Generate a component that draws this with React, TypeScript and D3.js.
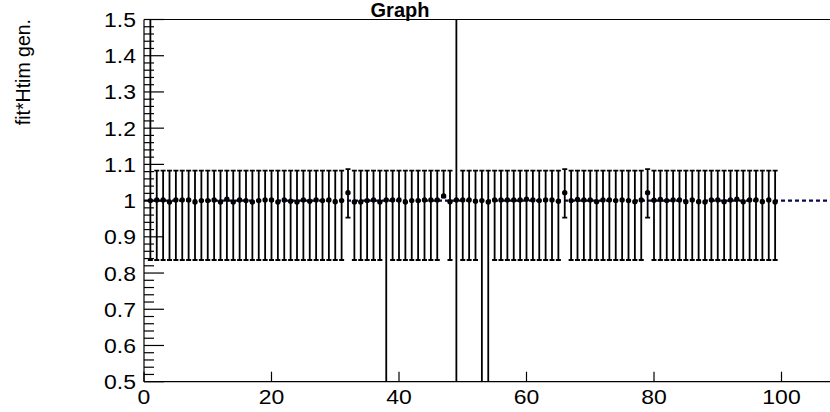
import React from "react";
import * as d3 from "d3";

const xValues = [
  1, 2, 3, 4, 5, 6, 7, 8, 9, 10, 11, 12, 13, 14, 15, 16, 17, 18, 19, 20,
  21, 22, 23, 24, 25, 26, 27, 28, 29, 30, 31, 32, 33, 34, 35, 36, 37, 38, 39, 40,
  41, 42, 43, 44, 45, 46, 47, 48, 49, 50, 51, 52, 53, 54, 55, 56, 57, 58, 59, 60,
  61, 62, 63, 64, 65, 66, 67, 68, 69, 70, 71, 72, 73, 74, 75, 76, 77, 78, 79, 80,
  81, 82, 83, 84, 85, 86, 87, 88, 89, 90, 91, 92, 93, 94, 95, 96, 97, 98, 99,
];

const yValues = [
  1.0, 1.002, 1.002, 0.996, 1.002, 1.002, 1.002, 0.996, 1.0, 1.0,
  1.002, 0.996, 1.004, 0.996, 1.002, 1.0, 0.996, 1.0, 1.002, 1.002,
  0.996, 1.002, 0.998, 0.996, 1.002, 0.998, 1.002, 1.0, 1.002, 0.997,
  1.0, 1.022, 0.996, 0.996, 1.0, 1.002, 0.996, 1.002, 1.002, 1.002,
  0.996, 1.0, 1.0, 1.002, 1.002, 1.002, 1.013, 0.997, 1.002, 1.002,
  1.002, 0.998, 1.0, 0.996, 1.002, 1.002, 1.002, 1.002, 1.002, 1.004,
  1.002, 1.0, 1.002, 1.002, 0.998, 1.022, 1.0, 1.003, 1.002, 1.002,
  0.997, 1.002, 1.002, 1.0, 1.002, 1.0, 0.997, 1.002, 1.022, 1.001,
  1.003, 1.0, 1.002, 1.002, 0.997, 1.002, 0.997, 0.996, 1.002, 1.002,
  0.997, 1.002, 1.004, 0.997, 1.002, 1.002, 0.997, 1.002, 0.996,
];

const errHigh = [
  0.8, 0.081, 0.081, 0.087, 0.081, 0.081, 0.081, 0.087, 0.083, 0.083,
  0.081, 0.087, 0.079, 0.087, 0.081, 0.083, 0.087, 0.083, 0.081, 0.081,
  0.087, 0.081, 0.085, 0.087, 0.081, 0.085, 0.081, 0.083, 0.081, 0.086,
  0.083, 0.065, 0.087, 0.087, 0.083, 0.081, 0.087, 0.081, 0.081, 0.081,
  0.087, 0.083, 0.083, 0.081, 0.081, 0.081, 0.07, 0.086, 0.7, 0.081,
  0.081, 0.085, 0.083, 0.087, 0.081, 0.081, 0.081, 0.081, 0.081, 0.079,
  0.081, 0.083, 0.081, 0.081, 0.085, 0.065, 0.083, 0.08, 0.081, 0.081,
  0.086, 0.081, 0.081, 0.083, 0.081, 0.083, 0.086, 0.081, 0.065, 0.082,
  0.08, 0.083, 0.081, 0.081, 0.086, 0.081, 0.086, 0.087, 0.081, 0.081,
  0.086, 0.081, 0.079, 0.086, 0.081, 0.081, 0.086, 0.081, 0.087,
];

const errLow = [
  0.164, 0.166, 0.166, 0.16, 0.166, 0.166, 0.166, 0.16, 0.164, 0.164,
  0.166, 0.16, 0.168, 0.16, 0.166, 0.164, 0.16, 0.164, 0.166, 0.166,
  0.16, 0.166, 0.162, 0.16, 0.166, 0.162, 0.166, 0.164, 0.166, 0.161,
  0.164, 0.069, 0.16, 0.16, 0.164, 0.166, 0.16, 0.7, 0.166, 0.166,
  0.16, 0.164, 0.164, 0.166, 0.166, 0.166, 0.004, 0.161, 0.7, 0.166,
  0.166, 0.162, 0.7, 0.7, 0.166, 0.166, 0.166, 0.166, 0.166, 0.168,
  0.166, 0.164, 0.166, 0.166, 0.162, 0.069, 0.164, 0.167, 0.166, 0.166,
  0.161, 0.166, 0.166, 0.164, 0.166, 0.164, 0.161, 0.166, 0.069, 0.165,
  0.167, 0.164, 0.166, 0.166, 0.161, 0.166, 0.161, 0.16, 0.166, 0.166,
  0.161, 0.166, 0.168, 0.161, 0.166, 0.166, 0.161, 0.166, 0.16,
];

const fitX = [0, 110];
const fitY = [1.0, 1.0];

const xTickValues = [0, 20, 40, 60, 80, 100];
const xTickLabels = ["0", "20", "40", "60", "80", "100"];
const yTickValues = [0.5, 0.6, 0.7, 0.8, 0.9, 1.0, 1.1, 1.2, 1.3, 1.4, 1.5];
const yTickLabels = ["0.5", "0.6", "0.7", "0.8", "0.9", "1", "1.1", "1.2", "1.3", "1.4", "1.5"];

const titleText = "Graph";
const yTitleText = "fit*Htim gen.";

const W = 830;
const H = 412;
const L = 144;
const T = 19.5;
const B = 381.7;
const FONT = "'Liberation Sans', Arial, Helvetica, sans-serif";
const LABEL_SIZE = 20.5;
const LABEL_STRETCH = 1.12;

export default function App() {
  const x = d3.scaleLinear().domain([0, 110]).range([L, L + 110 * 6.375]);
  const y = d3.scaleLinear().domain([0.5, 1.5]).range([B, T]);

  const yMinor: number[] = [];
  for (let i = 0; i < yTickValues.length - 1; i++) {
    for (let k = 1; k < 5; k++) {
      yMinor.push(yTickValues[i] + (k * (yTickValues[i + 1] - yTickValues[i])) / 5);
    }
  }

  const fitLine = d3
    .line<number>()
    .x((_, i) => x(fitX[i]))
    .y((_, i) => y(fitY[i]))(fitX);

  const cap = 2.5;

  return (
    <svg
      width={W}
      height={H}
      style={{ position: "absolute", left: 0, top: 0, background: "#fff" }}
    >
      <defs>
        <clipPath id="plotclip">
          <rect x={L} y={T} width={W - L + 20} height={B - T} />
        </clipPath>
      </defs>
      <rect x={0} y={0} width={W} height={H} fill="#fff" />

      {/* frame */}
      <line x1={L} x2={W + 10} y1={T} y2={T} stroke="#000" strokeWidth={1.2} />

      {/* fit function */}
      <g clipPath="url(#plotclip)">
        <path d={fitLine || ""} fill="none" stroke="#0a0a50" strokeWidth={2.4} strokeDasharray="4,3" />
      </g>

      {/* error bars and points */}
      <g clipPath="url(#plotclip)">
        {xValues.map((xv, i) => {
          const cx = x(xv);
          const yHi = y(yValues[i] + errHigh[i]);
          const yLo = y(yValues[i] - errLow[i]);
          const inHi = yValues[i] + errHigh[i] <= 1.5;
          const inLo = yValues[i] - errLow[i] >= 0.5;
          return (
            <g key={i} stroke="#000" strokeWidth={1.8}>
              <line x1={cx} x2={cx} y1={yHi} y2={yLo} />
              {inHi && <line x1={cx - cap} x2={cx + cap} y1={yHi} y2={yHi} />}
              {inLo && <line x1={cx - cap} x2={cx + cap} y1={yLo} y2={yLo} />}
            </g>
          );
        })}
        {xValues.map((xv, i) => (
          <circle key={"p" + i} cx={x(xv)} cy={y(yValues[i])} r={2.7} fill="#000" />
        ))}
      </g>

      {/* y axis */}
      <line x1={L} x2={L} y1={T} y2={B} stroke="#000" strokeWidth={1.2} />
      {yTickValues.map((v) => (
        <line key={"yM" + v} x1={L} x2={L + 20} y1={y(v)} y2={y(v)} stroke="#000" strokeWidth={1.2} />
      ))}
      {yMinor.map((v, i) => (
        <line key={"ym" + i} x1={L} x2={L + 10} y1={y(v)} y2={y(v)} stroke="#000" strokeWidth={1.2} />
      ))}
      {yTickValues.map((v, i) => (
        <text
          key={"yl" + v}
          transform={`translate(${L - 8},${y(v) + 7.5}) scale(${LABEL_STRETCH},1)`}
          textAnchor="end"
          fontFamily={FONT}
          fontSize={LABEL_SIZE}
          fill="#000"
        >
          {yTickLabels[i]}
        </text>
      ))}

      {/* x axis */}
      <line x1={L} x2={W + 10} y1={B} y2={B} stroke="#000" strokeWidth={1.2} />
      {xTickValues.map((v) => (
        <line key={"xM" + v} x1={x(v)} x2={x(v)} y1={B} y2={B - 10} stroke="#000" strokeWidth={1.2} />
      ))}
      {xTickValues.map((v, i) => (
        <text
          key={"xl" + v}
          transform={`translate(${x(v)},404) scale(${LABEL_STRETCH},1)`}
          textAnchor="middle"
          fontFamily={FONT}
          fontSize={LABEL_SIZE}
          fill="#000"
        >
          {xTickLabels[i]}
        </text>
      ))}

      {/* titles */}
      <text x={400} y={17} textAnchor="middle" fontFamily={FONT} fontSize={20} fontWeight="bold" fill="#000">
        {titleText}
      </text>
      <text
        transform="translate(30,19) rotate(-90)"
        textAnchor="end"
        fontFamily={FONT}
        fontSize={19.5}
        fill="#000"
      >
        {yTitleText}
      </text>
    </svg>
  );
}
